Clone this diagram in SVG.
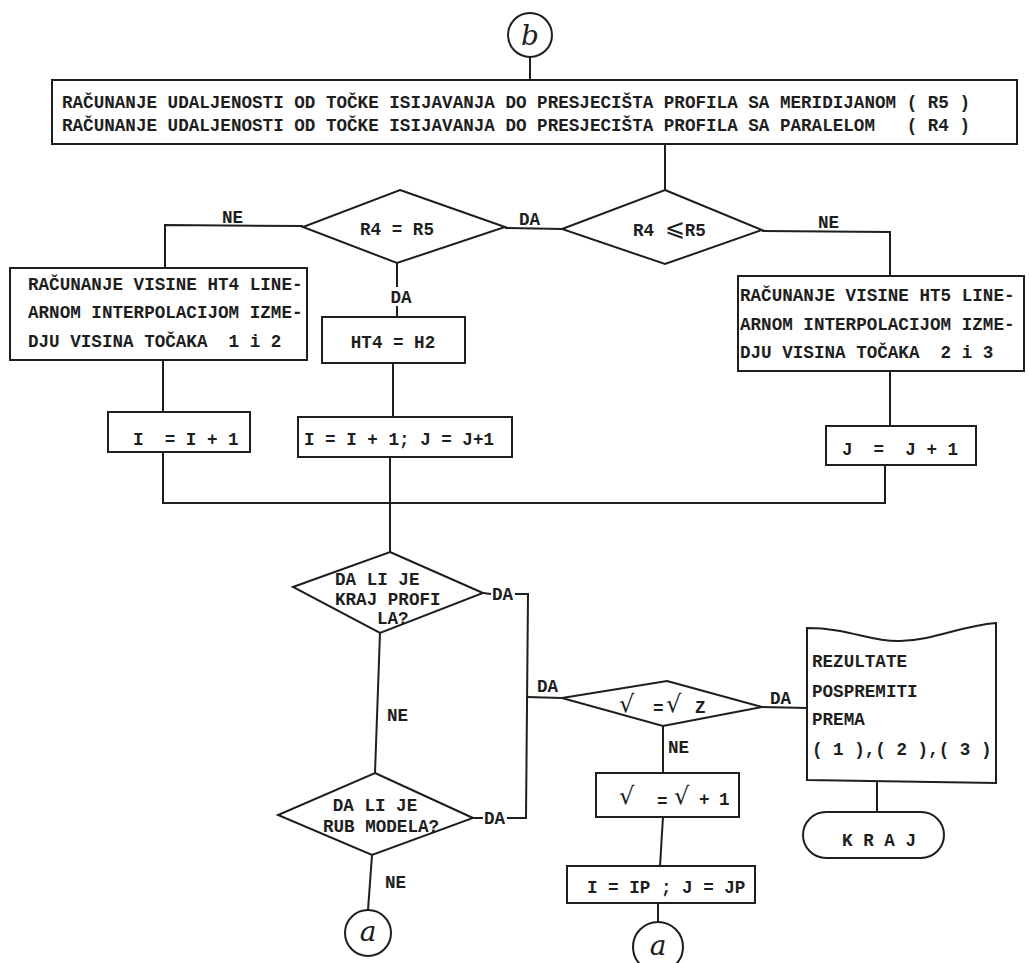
<svg xmlns="http://www.w3.org/2000/svg" width="1029" height="963" viewBox="0 0 1029 963">
<style>
  .bg{fill:#ffffff}
  .sh{fill:none;stroke:#1e1e1e;stroke-width:2;stroke-linejoin:miter}
  .ln{fill:none;stroke:#1e1e1e;stroke-width:2}
  .t{font-family:"Liberation Mono","DejaVu Sans Mono",monospace;font-size:17.6px;font-weight:bold;fill:#1e1e1e;white-space:pre}
  .m{text-anchor:middle}
  .v{font-family:"DejaVu Sans","Liberation Sans",sans-serif;font-size:24px;font-weight:normal;fill:#1e1e1e}
  .sc{font-family:"DejaVu Serif","Liberation Serif",serif;font-style:italic;font-size:28px;fill:#1e1e1e;text-anchor:middle}
</style>
<rect class="bg" x="0" y="0" width="1029" height="963"/>

<g id="connectors">
  <line class="ln" x1="530" y1="57" x2="530" y2="80"/>
  <line class="ln" x1="665" y1="144" x2="665" y2="190"/>
  <line class="ln" x1="562" y1="229" x2="505" y2="228"/>
  <polyline class="ln" points="303,226 165,225 165,268"/>
  <polyline class="ln" points="762,231 890,232 890,276"/>
  <line class="ln" x1="397" y1="263" x2="397" y2="287"/>
  <line class="ln" x1="397" y1="306" x2="397" y2="317"/>
  <line class="ln" x1="163" y1="360" x2="163" y2="412"/>
  <line class="ln" x1="393" y1="363" x2="393" y2="417"/>
  <line class="ln" x1="890" y1="371" x2="890" y2="426"/>
  <polyline class="ln" points="163,452 163,503 885,503 885,465"/>
  <line class="ln" x1="390" y1="457" x2="390" y2="552"/>
  <line class="ln" x1="380" y1="633" x2="375" y2="773"/>
  <line class="ln" x1="372" y1="855" x2="368" y2="910"/>
  <line class="ln" x1="483" y1="593" x2="491" y2="594"/>
  <polyline class="ln" points="515,594 528,594 526,818 507,818"/>
  <line class="ln" x1="473" y1="818" x2="483" y2="818"/>
  <line class="ln" x1="527" y1="697" x2="562" y2="698"/>
  <line class="ln" x1="762" y1="707" x2="807" y2="708"/>
  <line class="ln" x1="663" y1="726" x2="663" y2="773"/>
  <line class="ln" x1="663" y1="817" x2="660" y2="866"/>
  <line class="ln" x1="658" y1="903" x2="658" y2="922"/>
  <line class="ln" x1="877" y1="781" x2="877" y2="812"/>
  <text class="t" x="222" y="223">NE</text>
  <text class="t" x="519" y="225">DA</text>
  <text class="t" x="818" y="228">NE</text>
  <text class="t m" x="401" y="303">DA</text>
  <text class="t" x="492" y="600">DA</text>
  <text class="t" x="387" y="721">NE</text>
  <text class="t" x="484" y="824">DA</text>
  <text class="t" x="385" y="888">NE</text>
  <text class="t" x="537" y="692">DA</text>
  <text class="t" x="770" y="704">DA</text>
  <text class="t" x="668" y="753">NE</text>
</g>

<g id="start-b">
  <circle class="sh" cx="530" cy="35" r="22"/>
  <text class="sc" x="530" y="45">b</text>
</g>

<g id="calc-distances">
  <rect class="sh" x="52" y="80" width="965" height="64"/>
  <text class="t" x="62" y="108">RAČUNANJE UDALJENOSTI OD TOČKE ISIJAVANJA DO PRESJECIŠTA PROFILA SA MERIDIJANOM ( R5 )</text>
  <text class="t" x="62" y="131">RAČUNANJE UDALJENOSTI OD TOČKE ISIJAVANJA DO PRESJECIŠTA PROFILA SA PARALELOM   ( R4 )</text>
</g>

<g id="dec-r4-le-r5">
  <polygon class="sh" points="665,190 762,230 665,264 562,229"/>
  <text class="t" x="633" y="236">R4 <tspan class="v" font-size="22">⩽</tspan>R5</text>
</g>

<g id="dec-r4-eq-r5">
  <polygon class="sh" points="400,190 505,227 397,263 303,227"/>
  <text class="t m" x="397" y="235">R4 = R5</text>
</g>

<g id="calc-ht4">
  <rect class="sh" x="10" y="268" width="297" height="92"/>
  <text class="t" x="28" y="290">RAČUNANJE VISINE HT4 LINE-</text>
  <text class="t" x="28" y="318">ARNOM INTERPOLACIJOM IZME-</text>
  <text class="t" x="28" y="347">DJU VISINA TOČAKA  1 i 2</text>
</g>

<g id="ht4-h2">
  <rect class="sh" x="322" y="317" width="143" height="46"/>
  <text class="t m" x="393" y="348">HT4 = H2</text>
</g>

<g id="calc-ht5">
  <rect class="sh" x="738" y="276" width="286" height="95"/>
  <text class="t" x="740" y="301">RAČUNANJE VISINE HT5 LINE-</text>
  <text class="t" x="740" y="330">ARNOM INTERPOLACIJOM IZME-</text>
  <text class="t" x="740" y="358">DJU VISINA TOČAKA  2 i 3</text>
</g>

<g id="inc-i">
  <rect class="sh" x="108" y="412" width="142" height="40"/>
  <text class="t" x="133" y="445">I  = I + 1</text>
</g>

<g id="inc-ij">
  <rect class="sh" x="298" y="417" width="214" height="40"/>
  <text class="t" x="304" y="445">I = I + 1; J = J+1</text>
</g>

<g id="inc-j">
  <rect class="sh" x="826" y="426" width="150" height="39"/>
  <text class="t m" x="900" y="455">J  =  J + 1</text>
</g>

<g id="dec-kraj-profila">
  <polygon class="sh" points="390,552 483,593 380,633 293,587"/>
  <text class="t" x="335" y="585">DA LI JE</text>
  <text class="t" x="335" y="605">KRAJ PROFI</text>
  <text class="t" x="377" y="624">LA?</text>
</g>

<g id="dec-rub-modela">
  <polygon class="sh" points="375,773 473,818 372,855 278,815"/>
  <text class="t m" x="375" y="811">DA LI JE</text>
  <text class="t m" x="381" y="832">RUB MODELA?</text>
</g>

<g id="end-a-left">
  <circle class="sh" cx="368" cy="933" r="23"/>
  <text class="sc" x="368" y="941">a</text>
</g>

<g id="dec-v-vz">
  <polygon class="sh" points="667,681 762,707 663,726 562,698"/>
  <text class="v" x="619" y="712">√</text>
  <text class="t" x="653" y="714">=</text>
  <text class="v" x="666" y="712">√</text>
  <text class="t" x="695" y="713">Z</text>
</g>

<g id="inc-v">
  <rect class="sh" x="596" y="773" width="143" height="44"/>
  <text class="v" x="619" y="804">√</text>
  <text class="t" x="657" y="807">=</text>
  <text class="v" x="674" y="804">√</text>
  <text class="t" x="699" y="805">+</text>
  <text class="t" x="719" y="805">1</text>
</g>

<g id="reset-ij">
  <rect class="sh" x="567" y="866" width="188" height="37"/>
  <text class="t" x="587" y="893">I = IP ; J = JP</text>
</g>

<g id="end-a-right">
  <circle class="sh" cx="658" cy="947" r="25"/>
  <text class="sc" x="658" y="955">a</text>
</g>

<g id="output-doc">
  <path class="sh" d="M807,628 C850,628 870,642 900,641 C935,640 960,626 996,623 L996,783 L807,780 Z"/>
  <text class="t" x="812" y="667">REZULTATE</text>
  <text class="t" x="812" y="697">POSPREMITI</text>
  <text class="t" x="812" y="725">PREMA</text>
  <text class="t" x="812" y="755">( 1 ),( 2 ),( 3 )</text>
</g>

<g id="end-kraj">
  <rect class="sh" x="803" y="812" width="141" height="46" rx="23" ry="23"/>
  <text class="t m" x="879" y="846">K R A J</text>
</g>
</svg>
